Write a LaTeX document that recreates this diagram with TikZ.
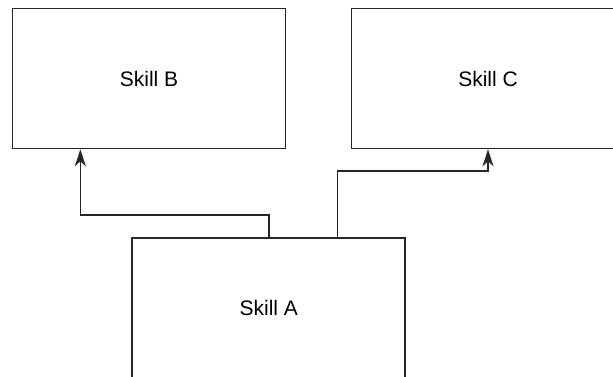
\documentclass[tikz,border=0pt]{standalone}
\usepackage{fontspec}
\setmainfont{Liberation Sans}
\usetikzlibrary{positioning,arrows.meta,calc}
\tikzset{
  skillBox/.style={draw=black!85, line width=0.8pt, fill=white, align=center,
    minimum width=136.5pt, minimum height=70pt, inner sep=0pt,
    font=\fontsize{10.5}{12.6}\selectfont},
  linkLine/.style={-{Stealth[length=8.5pt, width=5.5pt, inset=2.5pt]},
    line width=0.8pt, draw=black!85},
}

\begin{document}
\begin{tikzpicture}[x=0.5pt, y=-0.5pt]
  \useasboundingbox (0,0) rectangle (613,376);

  \node[skillBox] (skillB) at (149,78.5) {Skill B};
  \node[skillBox] (skillC) at (488,78.5) {Skill C};
  \node[skillBox] (skillA) at (268.75,308) {Skill A};

  % exit and entry points off the box centres
  \coordinate (bIn) at ($(skillB.south west)!0.25!(skillB.south east)$);
  \coordinate (aOut) at ($(skillA.north west)!0.75!(skillA.north east)$);

  \draw[linkLine] (skillA.north) -- ++(0,-22.5) -| (bIn);
  \draw[linkLine] (aOut) -- ++(0,-66.5) -| (skillC.south);
\end{tikzpicture}
\end{document}
